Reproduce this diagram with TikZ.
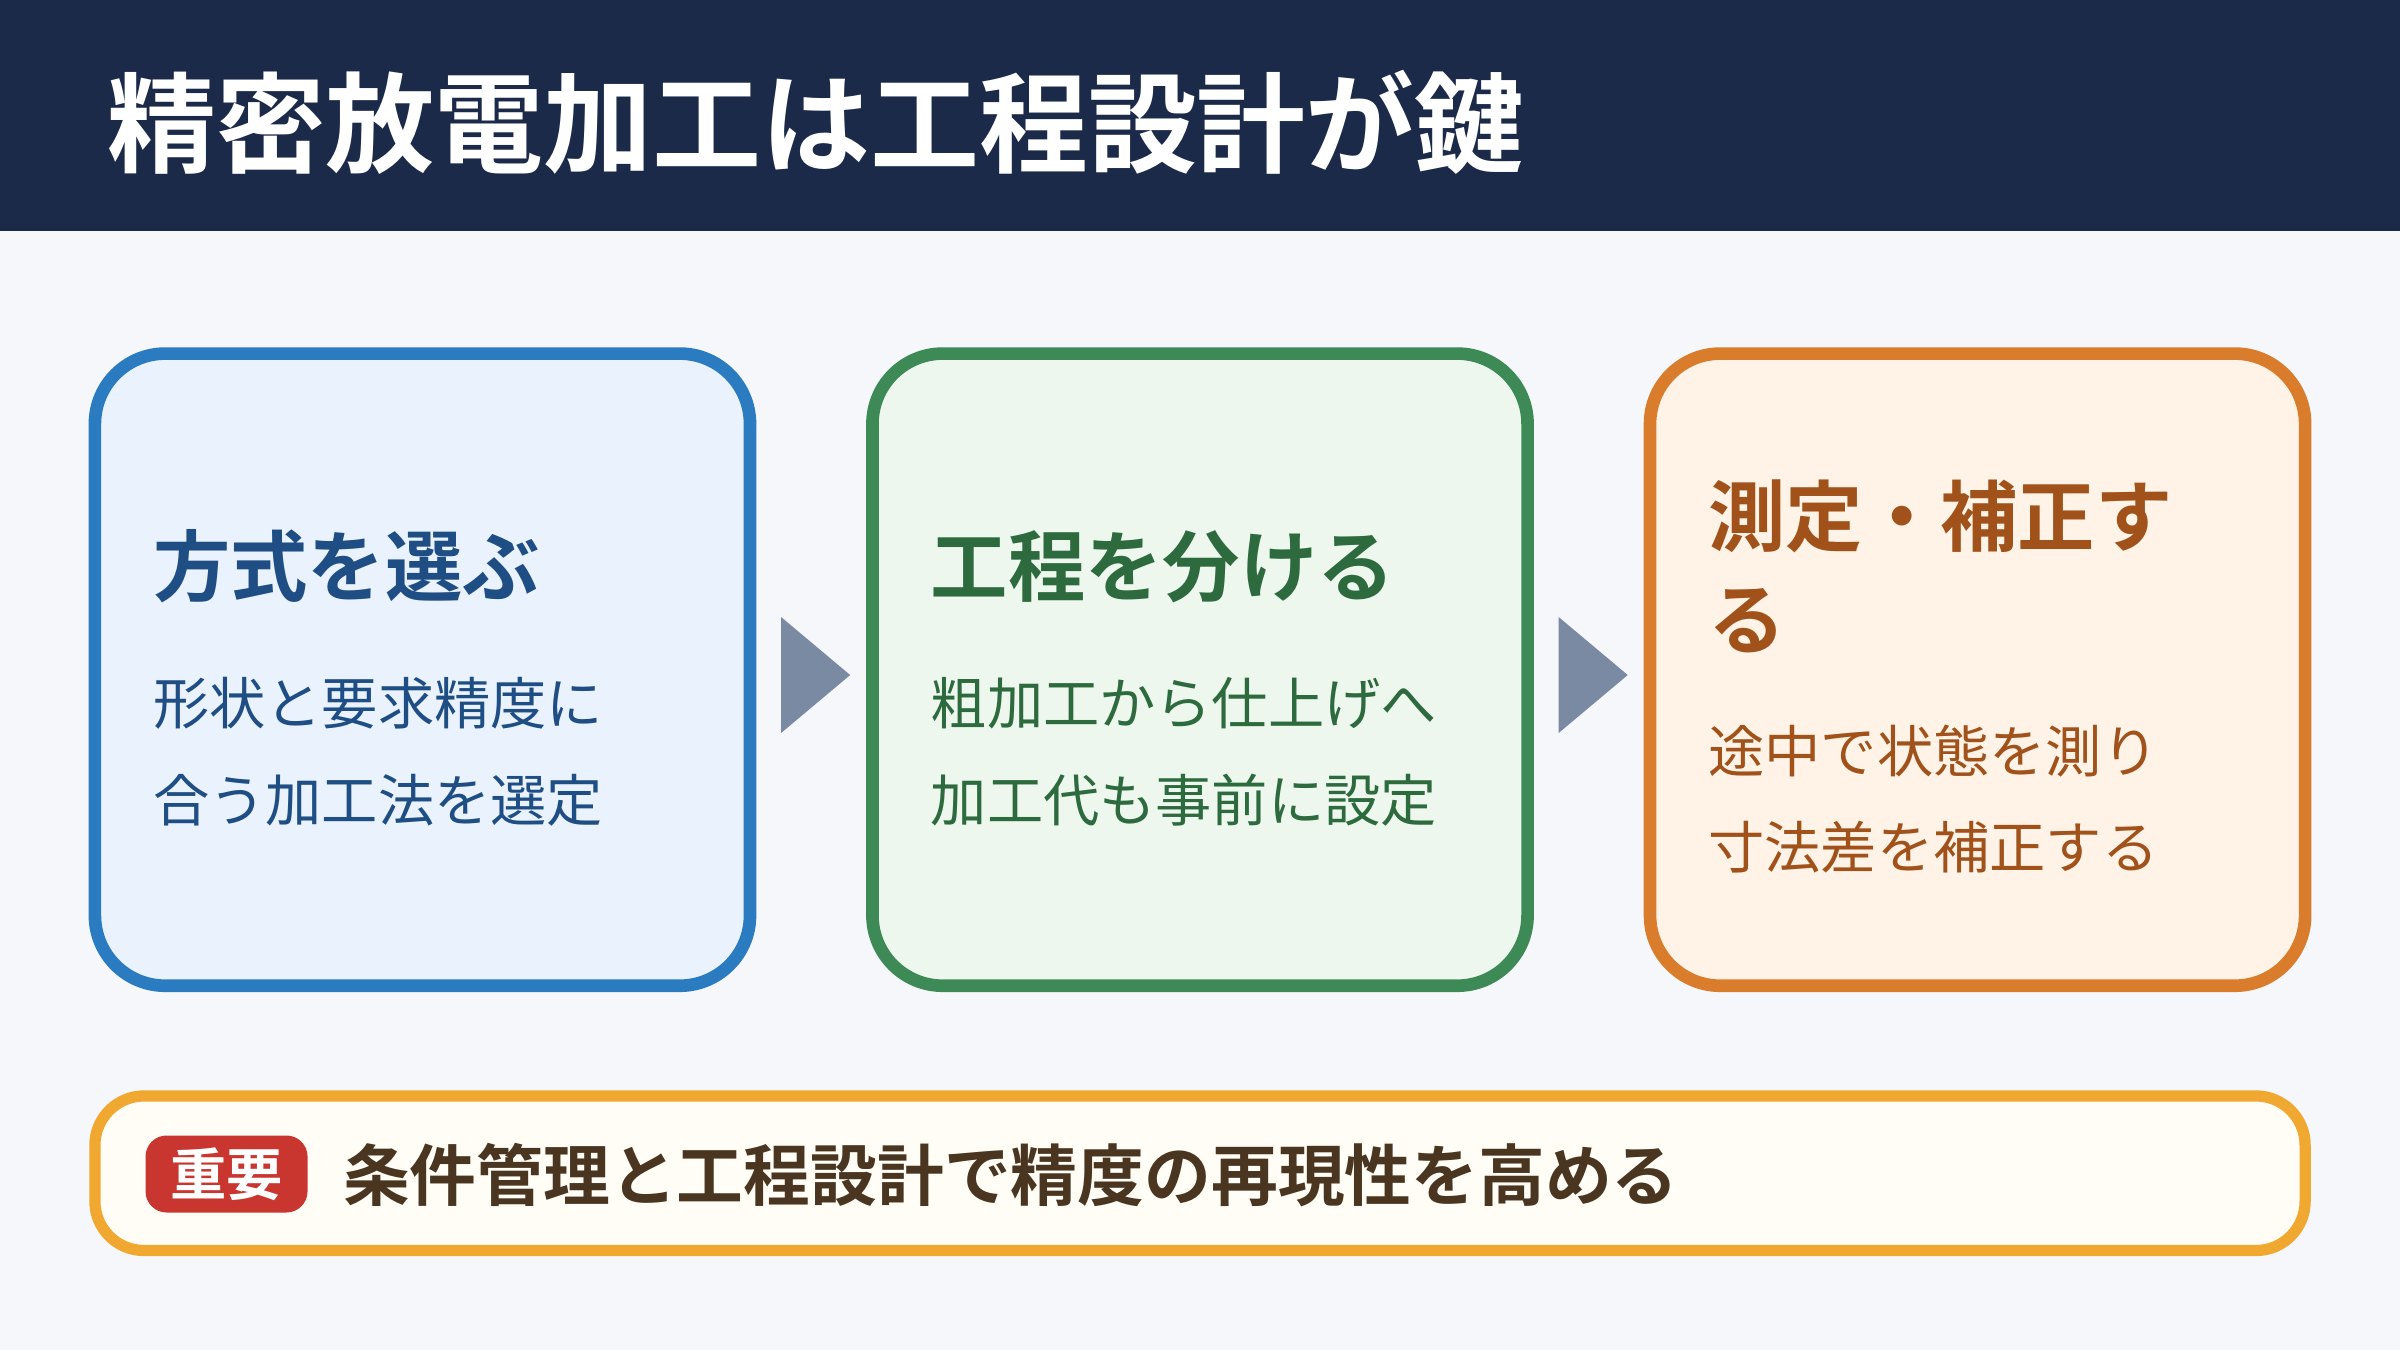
\documentclass[tikz,border=0pt]{standalone}
\usepackage{fontspec}
\setmainfont{Noto Sans CJK JP}[BoldFont=Noto Sans CJK JP Bold]
\usetikzlibrary{shapes.geometric}
\definecolor{hnavy}{HTML}{1C2A4A}
\definecolor{bgpage}{HTML}{F5F7FB}
\definecolor{bblue}{HTML}{2B7BC0}
\definecolor{fblue}{HTML}{EAF3FD}
\definecolor{tblue}{HTML}{1F4E85}
\definecolor{bgreen}{HTML}{3D8A57}
\definecolor{fgreen}{HTML}{EDF7EE}
\definecolor{tgreen}{HTML}{2D6A3E}
\definecolor{borange}{HTML}{D97C2B}
\definecolor{forange}{HTML}{FEF3E6}
\definecolor{torange}{HTML}{A0521A}
\definecolor{arrowgray}{HTML}{7A8AA3}
\definecolor{byellow}{HTML}{F0A830}
\definecolor{fyellow}{HTML}{FFFDF5}
\definecolor{bred}{HTML}{C9362F}
\definecolor{tbrown}{HTML}{4A3520}
\tikzset{
  stepbox/.style={draw, line width=3.6pt, rounded corners=20pt},
  steptitle/.style={anchor=west, align=left, font=\bfseries\fontsize{22}{29.5}\selectfont},
  stepbody/.style={anchor=west, align=left, font=\fontsize{16}{27.5}\selectfont},
  flow/.style={isosceles triangle, fill=arrowgray, minimum height=0.69cm, minimum width=0.8cm, inner sep=0pt, isosceles triangle apex angle=80},
}
\begin{document}
\begin{tikzpicture}[x=0.015306cm, y=-0.015306cm]
\useasboundingbox (0,0) rectangle (1568,882);
\fill[bgpage] (0,0) rectangle (1568,882);
%% header
\fill[hnavy] (0,0) rectangle (1568,151);
\node[anchor=west, text=white, font=\bfseries\fontsize{31}{34}\selectfont] (title) at (62,80) {精密放電加工は工程設計が鍵};

%% step boxes
\draw[stepbox, draw=bblue, fill=fblue] (62,231) rectangle (490,644);
\node[steptitle, text=tblue] (choosetitle) at (92,370) {方式を選ぶ};
\node[stepbody, text=tblue] (choosebody) at (92,491) {形状と要求精度に\\合う加工法を選定};

\draw[stepbox, draw=bgreen, fill=fgreen] (570,231) rectangle (998,644);
\node[steptitle, text=tgreen] (splittitle) at (600,370) {工程を分ける};
\node[stepbody, text=tgreen] (splitbody) at (600,491) {粗加工から仕上げへ\\加工代も事前に設定};

\draw[stepbox, draw=borange, fill=forange] (1078,231) rectangle (1506,644);
\node[steptitle, text=torange] (measuretitle) at (1108,370) {測定・補正す\\る};
\node[stepbody, text=torange] (measurebody) at (1108,522) {途中で状態を測り\\寸法差を補正する};

%% arrows between steps
\node[flow] (flowa) at (528,441) {};
\node[flow] (flowb) at (1036,441) {};

%% key point
\draw[draw=byellow, fill=fyellow, line width=3.2pt, rounded corners=14pt] (62,716) rectangle (1506,817);
\node[fill=bred, rounded corners=6pt, text=white, font=\bfseries\fontsize{16}{20}\selectfont, minimum width=1.62cm, minimum height=0.77cm] (badge) at (148,767) {重要};
\node[anchor=west, text=tbrown, font=\bfseries\fontsize{19}{24}\selectfont] (keytext) at (216,768) {条件管理と工程設計で精度の再現性を高める};
\end{tikzpicture}
\end{document}
